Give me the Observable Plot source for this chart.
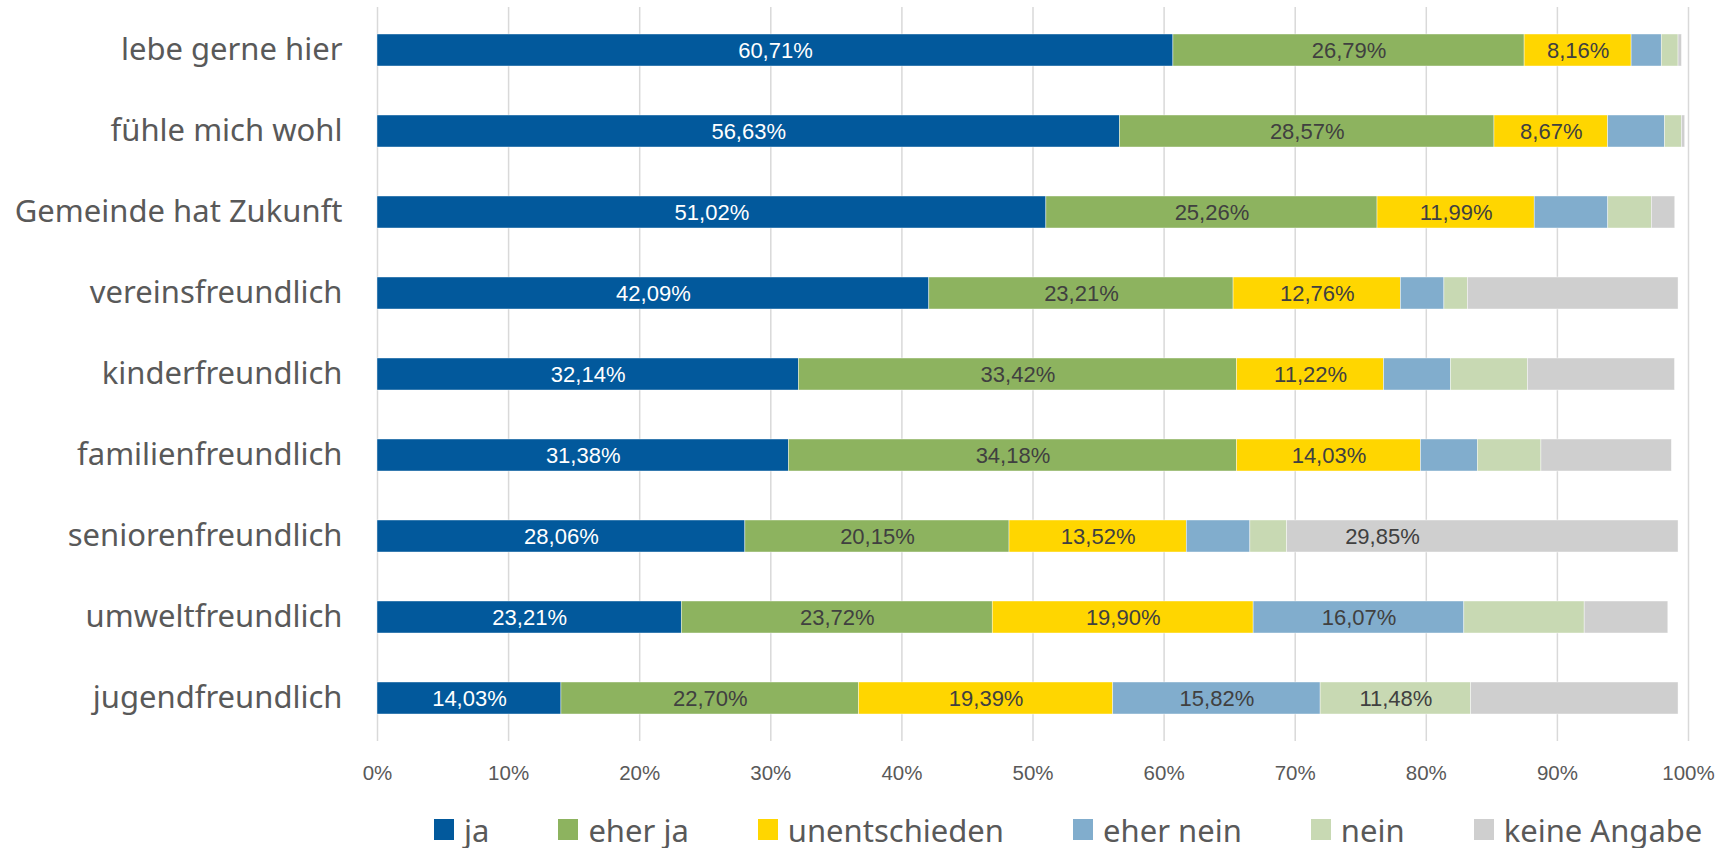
<!DOCTYPE html>
<html>
<head>
<meta charset="utf-8">
<script src="https://cdn.jsdelivr.net/npm/d3@7"></script>
<script src="https://cdn.jsdelivr.net/npm/@observablehq/plot@0.6"></script>
<style>
  html, body { margin: 0; padding: 0; background: #fff; }
  #chart { width: 1721px; }
  #legend { display: flex; flex-wrap: nowrap; align-items: center; width: 1721px; height: 48px; padding-top: 11px; padding-left: 434px; box-sizing: border-box; font-family: "Noto Sans", sans-serif; font-size: 31px; color: #595959; white-space: nowrap; }
  .item { display: flex; align-items: center; margin-right: 69px; flex-shrink: 0; white-space: nowrap; }
  .sw { width: 20px; height: 21px; margin-right: 10px; flex-shrink: 0; }
</style>
</head>
<body>
<div id="chart"></div>
<div id="legend"></div>
<script>
const categories = ["lebe gerne hier", "fühle mich wohl", "Gemeinde hat Zukunft", "vereinsfreundlich", "kinderfreundlich", "familienfreundlich", "seniorenfreundlich", "umweltfreundlich", "jugendfreundlich"];
const seriesNames = ["ja", "eher ja", "unentschieden", "eher nein", "nein", "keine Angabe"];
const seriesColors = ["#02599C", "#8DB35F", "#FFD600", "#81ADCD", "#C8D9B3", "#CFCFCF"];
const labelMin = [8, 8, 8, 10, 10, 20];

const ja          = [60.71, 56.63, 51.02, 42.09, 32.14, 31.38, 28.06, 23.21, 14.03];
const eherJa      = [26.79, 28.57, 25.26, 23.21, 33.42, 34.18, 20.15, 23.72, 22.70];
const unentschieden = [8.16, 8.67, 11.99, 12.76, 11.22, 14.03, 13.52, 19.90, 19.39];
const eherNein    = [2.30, 4.34, 5.61, 3.32, 5.10, 4.34, 4.85, 16.07, 15.82];
const nein        = [1.28, 1.28, 3.32, 1.79, 5.87, 4.85, 2.81, 9.18, 11.48];
const keineAngabe = [0.26, 0.26, 1.79, 16.07, 11.22, 9.95, 29.85, 6.38, 15.82];
const xTicks = [0, 10, 20, 30, 40, 50, 60, 70, 80, 90, 100];

const seriesValues = [ja, eherJa, unentschieden, eherNein, nein, keineAngabe];
const data = [];
categories.forEach((c, i) => {
  seriesNames.forEach((s, j) => {
    data.push({cat: c, series: s, value: seriesValues[j][i], si: j});
  });
});
const fmt = v => v.toFixed(2).replace(".", ",") + "%";
const labelData = data.filter(d => d.value >= labelMin[d.si]);

const chart = Plot.plot({
  width: 1721,
  height: 800,
  marginTop: 7,
  marginBottom: 59,
  marginLeft: 377,
  marginRight: 33,
  style: { background: "#fff" },
  x: { domain: [0, 100], ticks: xTicks },
  y: { domain: categories, paddingInner: 0.6, paddingOuter: 0.3 },
  color: { domain: seriesNames, range: seriesColors },
  marks: [
    Plot.gridX(xTicks, { stroke: "#d9d9d9", strokeOpacity: 1, strokeWidth: 1.5 }),
    Plot.barX(data, Plot.stackX({ y: "cat", x: "value", z: "series", fill: "series", order: null, stroke: "#ffffff", strokeWidth: 0.6, strokeOpacity: 0.7 })),
    Plot.text(labelData, Plot.stackX({ y: "cat", x: "value", z: "series", order: null, text: d => fmt(d.value), fill: d => d.si === 0 ? "#ffffff" : "#404040", fontSize: 22, fontFamily: "Liberation Sans, Arial, sans-serif" })),
    Plot.axisX(xTicks, { tickSize: 0, tickPadding: 24, tickFormat: d => d + "%", fontSize: 20.5, fontFamily: "Liberation Sans, Arial, sans-serif", color: "#595959", label: null }),
    Plot.axisY({ tickSize: 0, tickPadding: 35, fontSize: 31, fontFamily: "Noto Sans, sans-serif", color: "#595959", label: null })
  ]
});
document.getElementById("chart").appendChild(chart);

const legend = document.getElementById("legend");
seriesNames.forEach((s, j) => {
  const it = document.createElement("div");
  it.className = "item";
  const sw = document.createElement("div");
  sw.className = "sw";
  sw.style.background = seriesColors[j];
  const t = document.createElement("span");
  t.textContent = s;
  it.appendChild(sw); it.appendChild(t);
  legend.appendChild(it);
});
</script>
</body>
</html>
